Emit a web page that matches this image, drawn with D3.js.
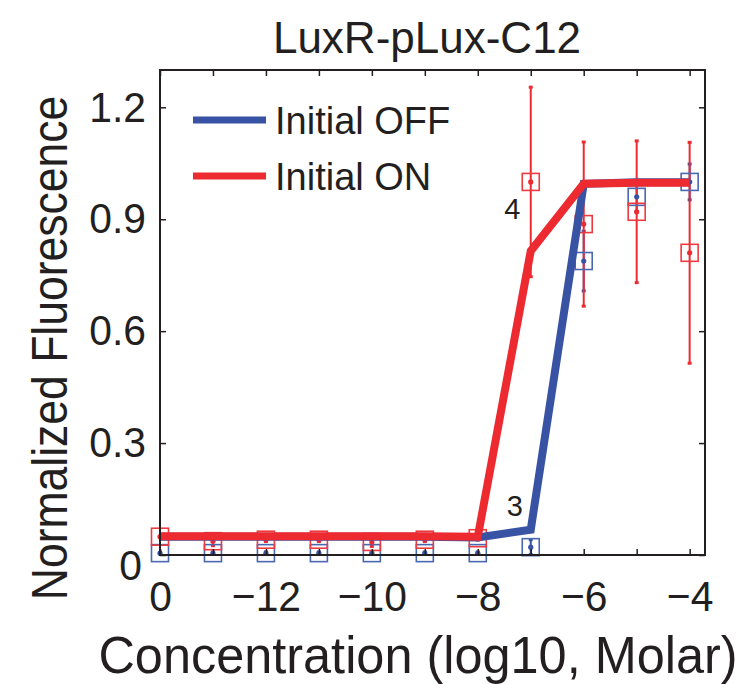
<!DOCTYPE html>
<html>
<head>
<meta charset="utf-8">
<script src="https://cdn.jsdelivr.net/npm/d3@7"></script>
<style>
  html, body { margin: 0; padding: 0; background: #fff; }
  svg { display: block; }
  text { font-family: "Liberation Sans", Arial, Helvetica, sans-serif; fill: #231f20; }
</style>
</head>
<body>
<svg id="chart" width="742" height="684"></svg>
<script>
// ---------------- data ----------------
const positions = [0, 1, 2, 3, 4, 5, 6, 7, 8, 9, 10];
const categories = ["0", "−13", "−12", "−11", "−10", "−9", "−8", "−7", "−6", "−5", "−4"];
const tickLabels = ["0", "", "−12", "", "−10", "", "−8", "", "−6", "", "−4"];
const yTicks = [0, 0.3, 0.6, 0.9, 1.2];
const yTickLabels = ["0", "0.3", "0.6", "0.9", "1.2"];

// model curves
const offFit = [0.049, 0.049, 0.049, 0.049, 0.049, 0.049, 0.047, 0.068, 0.995, 0.999, 0.999];
const onFit  = [0.050, 0.050, 0.050, 0.050, 0.050, 0.050, 0.049, 0.815, 0.995, 0.998, 0.998];

// measured data (mean, symmetric error)
const offMean = [0.005, 0.005, 0.005, 0.005, 0.005, 0.005, 0.005, 0.021, 0.788, 0.960, 1.000];
const offErr  = [0.003, 0.003, 0.003, 0.003, 0.003, 0.003, 0.003, 0.020, 0.080, 0.040, 0.048];
const onMean  = [0.049, 0.037, 0.041, 0.041, 0.035, 0.041, 0.045, 1.000, 0.887, 0.920, 0.810];
const onErr   = [0.005, 0.012, 0.005, 0.005, 0.012, 0.005, 0.005, 0.254, 0.220, 0.190, 0.296];

const seriesNames = ["Initial OFF", "Initial ON"];
const annotations = [{ label: "4", pos: 6.65, value: 0.9 }, { label: "3", pos: 6.7, value: 0.105 }];

// ---------------- layout ----------------
const blue = "#3953a4", red = "#ec2a30";
const blueMk = "#4a67b1", redMk = "#ef3b40";
const axisCol = "#231f20";
const L = 160, R = 705, T = 70, B = 555;

const svg = d3.select("#chart");
const x = d3.scaleLinear().domain([0, 10.29]).range([L, R]);
const y = d3.scaleLinear().domain([0, 1.3]).range([B, T]);

svg.append("defs").append("clipPath").attr("id", "clip")
  .append("rect").attr("x", L).attr("y", T).attr("width", R - L).attr("height", B - T);

const plotClip = svg.append("g").attr("clip-path", "url(#clip)");
const marks = svg.append("g");

// error bars + markers
function drawData(mean, err, mkCol, barCol) {
  const g = plotClip.append("g");
  positions.forEach((p, i) => {
    const cx = x(p), lo = y(mean[i] - err[i]), hi = y(mean[i] + err[i]);
    g.append("line").attr("x1", cx).attr("x2", cx).attr("y1", lo).attr("y2", hi)
      .attr("stroke", barCol).attr("stroke-width", 2);
    [lo, hi].forEach(yy => g.append("line").attr("x1", cx - 2).attr("x2", cx + 2)
      .attr("y1", yy).attr("y2", yy).attr("stroke", barCol).attr("stroke-width", 3));
    marks.append("circle").attr("cx", cx).attr("cy", y(mean[i])).attr("r", 2.6).attr("fill", barCol);
    marks.append("rect").attr("x", cx - 8.5).attr("y", y(mean[i]) - 8.5)
      .attr("width", 17).attr("height", 17)
      .attr("fill", "none").attr("stroke", mkCol).attr("stroke-width", 1.6);
  });
}
drawData(offMean, offErr, blueMk, blue);
drawData(onMean, onErr, redMk, red);

// lines
const lines = svg.append("g").attr("clip-path", "url(#clip)");
const line = d3.line().x((d, i) => x(positions[i])).y(d => y(d));
lines.append("path").datum(offFit).attr("d", line)
  .attr("fill", "none").attr("stroke", blue).attr("stroke-width", 8).attr("stroke-linejoin", "miter");
lines.append("path").datum(onFit).attr("d", line)
  .attr("fill", "none").attr("stroke", red).attr("stroke-width", 8).attr("stroke-linejoin", "miter");

// axes (box with inward ticks)
const tickFs = 43, tickSx = 0.95;
const axB = d3.axisBottom(x).tickValues(positions).tickSize(-6).tickPadding(25)
  .tickFormat((d, i) => tickLabels[i]);
const axT = d3.axisTop(x).tickValues(positions).tickSize(-6).tickFormat("");
const axLft = d3.axisLeft(y).tickValues(yTicks).tickSize(-6).tickPadding(14)
  .tickFormat((d, i) => yTickLabels[i]);
const axRgt = d3.axisRight(y).tickValues(yTicks).tickSize(-6).tickFormat("");

function style(g) {
  g.select(".domain").remove();
  g.selectAll(".tick line").attr("stroke", axisCol).attr("stroke-width", 1.5);
  g.selectAll(".tick text").attr("font-size", tickFs).attr("fill", axisCol)
    .attr("font-family", '"Liberation Sans", Arial, sans-serif')
    .attr("transform", `scale(${tickSx},1)`);
}
const gB = svg.append("g").attr("transform", `translate(0,${B})`).call(axB); style(gB);
const gT = svg.append("g").attr("transform", `translate(0,${T})`).call(axT); style(gT);
const gL = svg.append("g").attr("transform", `translate(${L},0)`).call(axLft); style(gL);
const gR = svg.append("g").attr("transform", `translate(${R},0)`).call(axRgt); style(gR);
gL.selectAll(".tick text").attr("x", -14 / tickSx);
// the zero label sits a little lower and left in the reference
gL.selectAll(".tick text").filter(d => d === 0).attr("x", -18 / tickSx).attr("dy", "0.58em");

svg.append("rect").attr("x", L).attr("y", T).attr("width", R - L).attr("height", B - T)
  .attr("fill", "none").attr("stroke", axisCol).attr("stroke-width", 2);

// annotations
annotations.forEach(a => svg.append("text").attr("x", x(a.pos)).attr("y", y(a.value))
  .attr("text-anchor", "middle").attr("font-size", 29).text(a.label));

// legend
const legend = svg.append("g");
[blue, red].forEach((c, i) => {
  const yy = 120 + i * 56;
  legend.append("line").attr("x1", 193).attr("x2", 266).attr("y1", yy).attr("y2", yy)
    .attr("stroke", c).attr("stroke-width", 7);
  legend.append("text").attr("x", 275).attr("y", yy + 14).attr("font-size", 38).text(seriesNames[i]);
});

// title and axis labels
function label(tx, ty, rot, sx, size, str) {
  svg.append("g").attr("transform", `translate(${tx},${ty}) rotate(${rot}) scale(${sx},1)`)
    .append("text").attr("text-anchor", "middle").attr("font-size", size).text(str);
}
label(427, 53, 0, 1, 44, "LuxR-pLux-C12");
label(418, 673, 0, 0.97, 52, "Concentration (log10, Molar)");
label(67, 348, -90, 0.89, 50, "Normalized Fluorescence");
</script>
</body>
</html>
